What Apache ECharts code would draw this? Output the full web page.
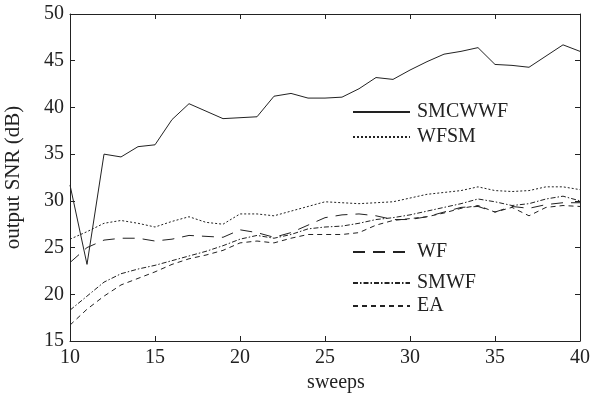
<!DOCTYPE html>
<html>
<head>
<meta charset="utf-8">
<script src="https://cdn.jsdelivr.net/npm/echarts@6/dist/echarts.min.js"></script>
<style>
  html, body { margin: 0; padding: 0; background: #fff; }
  #chart { width: 593px; height: 397px; }
</style>
</head>
<body>
<div id="chart"></div>
<script>
// sweeps 10..40
const sweeps = [10, 11, 12, 13, 14, 15, 16, 17, 18, 19, 20, 21, 22, 23, 24, 25,
    26, 27, 28, 29, 30, 31, 32, 33, 34, 35, 36, 37, 38, 39, 40];

const smcwwf = [31.7, 23.2, 35.0, 34.7, 35.8, 36.0, 38.7, 40.4, 39.6, 38.8, 38.9, 39.0, 41.2, 41.5, 41.0, 41.0,
    41.1, 42.0, 43.2, 43.0, 44.0, 44.9, 45.7, 46.0, 46.4, 44.6, 44.5, 44.3, 45.5, 46.7, 46.0];
const wfsm = [25.9, 26.7, 27.6, 27.9, 27.6, 27.2, 27.8, 28.3, 27.7, 27.5, 28.6, 28.6, 28.4, 28.9, 29.4, 29.9,
    29.8, 29.7, 29.8, 29.9, 30.3, 30.7, 30.9, 31.1, 31.5, 31.1, 31.0, 31.1, 31.5, 31.5, 31.2];
const wf = [23.4, 25.0, 25.8, 26.0, 26.0, 25.7, 25.9, 26.3, 26.2, 26.1, 26.9, 26.6, 26.1, 26.6, 27.4, 28.2,
    28.5, 28.6, 28.4, 28.0, 28.0, 28.3, 28.8, 29.3, 29.4, 28.8, 29.4, 29.2, 29.6, 29.8, 29.8];
const smwf = [18.3, 19.8, 21.3, 22.2, 22.7, 23.1, 23.6, 24.1, 24.6, 25.2, 25.9, 26.3, 26.0, 26.4, 27.0, 27.2,
    27.3, 27.6, 28.0, 28.2, 28.5, 28.9, 29.3, 29.7, 30.2, 29.9, 29.5, 29.7, 30.2, 30.5, 30.0];
const ea = [16.7, 18.4, 19.8, 21.0, 21.7, 22.4, 23.2, 23.8, 24.2, 24.7, 25.5, 25.7, 25.5, 26.0, 26.4, 26.4,
    26.4, 26.6, 27.4, 27.9, 28.1, 28.3, 28.7, 29.2, 29.5, 28.8, 29.3, 28.4, 29.3, 29.5, 29.4];

const xTicks = [10, 15, 20, 25, 30, 35, 40];
const yTicks = [15, 20, 25, 30, 35, 40, 45, 50];

const INK = '#222';
const FONT = '"Liberation Serif", "DejaVu Serif", serif';

function pairs(vals) {
    return sweeps.map((s, i) => [s, vals[i]]);
}

function mkSeries(name, vals, dash) {
    return {
        name: name,
        type: 'line',
        data: pairs(vals),
        symbol: 'none',
        lineStyle: { color: INK, width: 1, type: dash },
        itemStyle: { color: INK },
        animation: false,
    };
}

function mkLegend(name, top) {
    return {
        data: [name],
        left: 352,
        top: top,
        padding: 0,
        itemWidth: 57,
        itemHeight: 14,
        itemGap: 0,
        itemStyle: { opacity: 0 },
        textStyle: { fontFamily: FONT, fontSize: 20, color: INK, padding: [0, 0, 0, 2] },
    };
}

const axisBase = {
    type: 'value',
    axisLine: { show: true, lineStyle: { color: INK, width: 1 } },
    axisTick: { show: true, inside: true, length: 5, lineStyle: { color: INK } },
    splitLine: { show: false },
};

const chart = echarts.init(document.getElementById('chart'));
chart.setOption({
    backgroundColor: '#fff',
    animation: false,
    grid: { left: 70, right: 13, top: 14, bottom: 56, outerBoundsMode: 'none', containLabel: false },
    legend: [
        mkLegend('SMCWWF', 102),
        mkLegend('WFSM', 127),
        mkLegend('WF', 242),
        mkLegend('SMWF', 273),
        mkLegend('EA', 296),
    ],
    xAxis: [
        Object.assign({}, axisBase, {
            min: xTicks[0], max: xTicks[xTicks.length - 1], interval: 5,
            position: 'bottom',
            name: 'sweeps', nameLocation: 'middle', nameGap: 28,
            nameTextStyle: { fontFamily: FONT, fontSize: 20, color: INK, padding: [0, 0, 0, 22] },
            axisLabel: { fontFamily: FONT, fontSize: 20, color: INK, margin: 7 },
        }),
        Object.assign({}, axisBase, {
            min: xTicks[0], max: xTicks[xTicks.length - 1], interval: 5,
            position: 'top',
            axisLabel: { show: false },
        }),
    ],
    yAxis: [
        Object.assign({}, axisBase, {
            min: yTicks[0], max: yTicks[yTicks.length - 1], interval: 5,
            position: 'left',
            name: 'output SNR (dB)', nameLocation: 'middle', nameGap: 46,
            nameTextStyle: { fontFamily: FONT, fontSize: 21, color: INK },
            axisLabel: { fontFamily: FONT, fontSize: 20, color: INK, margin: 6 },
        }),
        Object.assign({}, axisBase, {
            min: yTicks[0], max: yTicks[yTicks.length - 1], interval: 5,
            position: 'right',
            axisLabel: { show: false },
        }),
    ],
    series: [
        mkSeries('SMCWWF', smcwwf, 'solid'),
        mkSeries('WFSM', wfsm, [2, 2]),
        mkSeries('WF', wf, [12, 8]),
        mkSeries('SMWF', smwf, [5, 2, 1.5, 2]),
        mkSeries('EA', ea, [5, 4]),
    ],
});
</script>
</body>
</html>
